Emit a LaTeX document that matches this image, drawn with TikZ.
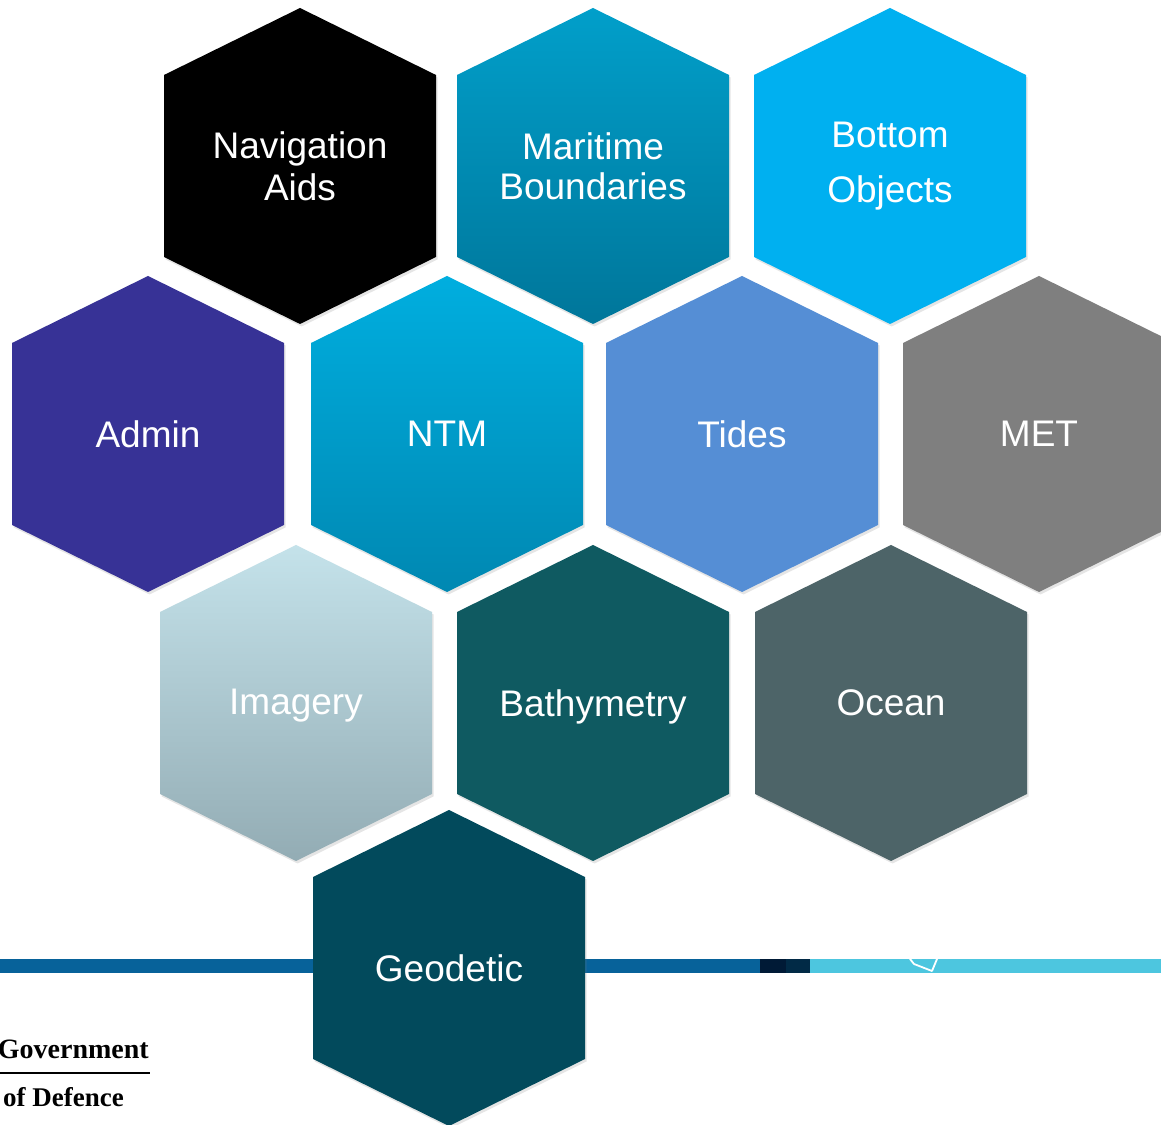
\documentclass[tikz,border=0pt]{standalone}
\usepackage{fontspec}
\setmainfont{Liberation Sans}
\newfontfamily\govfont{Liberation Serif}
\usepackage{xcolor}
\usetikzlibrary{shadows}

\definecolor{maritimetop}{HTML}{019FCA}
\definecolor{maritimebot}{HTML}{00769A}
\definecolor{bottomobj}{HTML}{00B0F0}
\definecolor{adminblue}{HTML}{373296}
\definecolor{ntmtop}{HTML}{00AEDF}
\definecolor{ntmbot}{HTML}{0088B2}
\definecolor{tidesblue}{HTML}{558ED5}
\definecolor{metgrey}{HTML}{7F7F7F}
\definecolor{imagerytop}{HTML}{C4E2EA}
\definecolor{imagerybot}{HTML}{93ACB4}
\definecolor{bathyteal}{HTML}{0F5A61}
\definecolor{oceangrey}{HTML}{4D6468}
\definecolor{geodeticteal}{HTML}{024A5C}
\definecolor{barblue}{HTML}{07629A}
\definecolor{bardark}{HTML}{001A36}
\definecolor{bardeep}{HTML}{012A46}
\definecolor{barlight}{HTML}{4DC6DF}

\begin{document}
\begin{tikzpicture}[x=1pt,y=1pt,
            hexpath/.style={insert path={++(0,158) -- ++(136,-67) -- ++(0,-182) -- ++(-136,-67) -- ++(-136,67) -- ++(0,182) -- cycle}},
            cell/.style={drop shadow={shadow xshift=1.5pt,shadow yshift=-2.5pt,opacity=.2}},
            lbl/.style={text=white, align=center, inner sep=0pt, font=\fontsize{37}{42}\selectfont},
            gov/.style={inner sep=0pt, font=\govfont\bfseries\fontsize{28}{30}\selectfont}]
        \useasboundingbox[fill=white] (0,0) rectangle (1161,1124);

        \fill[black,cell] (300,958) [hexpath];
        \shade[top color=maritimetop,bottom color=maritimebot,cell] (593,958) [hexpath];
        \fill[bottomobj,cell] (890,958) [hexpath];

        \fill[adminblue,cell] (148,690) [hexpath];
        \shade[top color=ntmtop,bottom color=ntmbot,cell] (447,690) [hexpath];
        \fill[tidesblue,cell] (742,690) [hexpath];
        \fill[metgrey,cell] (1039,690) [hexpath];

        \shade[top color=imagerytop,bottom color=imagerybot,cell] (296,421) [hexpath];
        \fill[bathyteal,cell] (593,421) [hexpath];
        \fill[oceangrey,cell] (891,421) [hexpath];

        \fill[barblue] (0,151) rectangle (760,165);
        \fill[bardark] (760,151) rectangle (786,165);
        \fill[bardeep] (786,151) rectangle (810,165);
        \fill[barlight] (810,151) rectangle (1161,165);
        \draw[white,line width=1.8pt,line cap=round,line join=round] (910,165) -- (914,160) -- (932,153) -- (937,165);

        \fill[geodeticteal,cell] (449,156) [hexpath];

        \node[lbl] (navaids) at (300,958) {Navigation\\Aids};
        \node[lbl] (maritime) at (593,958) {Maritime\\[-2pt]Boundaries};
        \node[lbl] (bottomobjects) at (890,958) {Bottom\\[13pt]Objects};
        \node[lbl] (admin) at (148,690) {Admin};
        \node[lbl] (ntm) at (447,690) {NTM};
        \node[lbl] (tides) at (742,690) {Tides};
        \node[lbl] (met) at (1039,690) {MET};
        \node[lbl] (imagery) at (296,418) {Imagery};
        \node[lbl] (bathymetry) at (593,417) {Bathymetry};
        \node[lbl] (ocean) at (891,421) {Ocean};
        \node[lbl] (geodetic) at (449,156) {Geodetic};

        \node[gov,anchor=base east] (govt) at (149,66) {Government};
        \draw[line width=1.2pt] (0,51) -- (150,51);
        \node[gov,anchor=base west,font=\govfont\bfseries\fontsize{27}{30}\selectfont] (defence) at (3,18) {of Defence};
    \end{tikzpicture}
\end{document}
